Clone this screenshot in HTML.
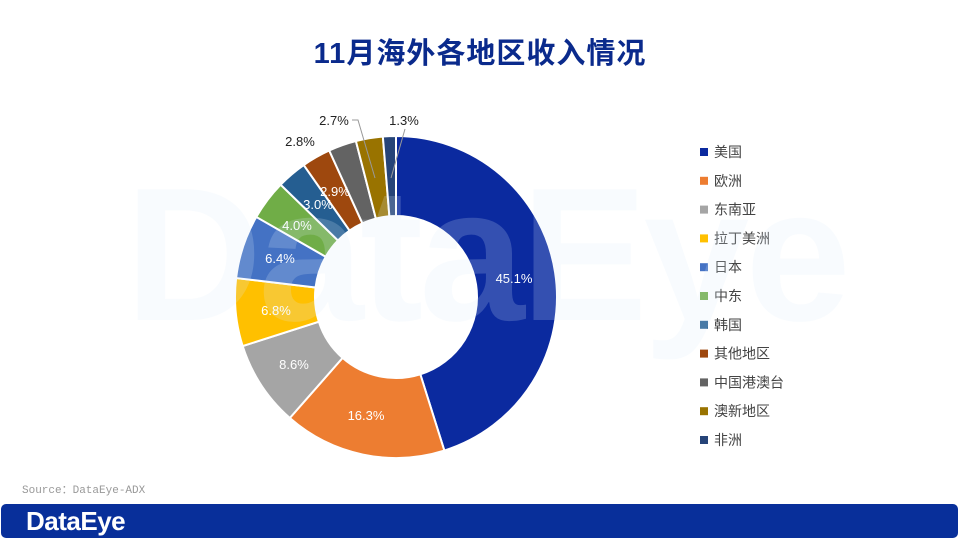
<!DOCTYPE html>
<html><head><meta charset="utf-8"><style>
body{margin:0;width:960px;height:540px;background:#fff;overflow:hidden;position:relative;font-family:"Liberation Sans","Noto Sans CJK SC",sans-serif}
.t{position:absolute;left:0;width:960px;top:30px;text-align:center;font-size:29px;font-weight:bold;color:#0a2a8c;letter-spacing:1px}
.src{position:absolute;left:22px;top:481px;font-family:"Liberation Mono","Noto Sans CJK SC",monospace;font-size:11px;color:#999}
.bar{position:absolute;left:1px;top:504px;width:957px;height:34px;background:#082f9a;border-radius:5px}
.logo{position:absolute;left:26px;top:506px;color:#fff;font-size:26px;font-weight:bold;letter-spacing:-0.5px}
.wm{position:absolute;left:125px;top:160px;font-size:190px;font-weight:bold;color:rgba(220,235,250,0.2);letter-spacing:-4px;line-height:190px}
</style></head><body>
<div class="t">11月海外各地区收入情况</div>
<svg width="960" height="540" style="position:absolute;left:0;top:0" id="s">
<g id="sl"></g>
<g font-size="13" fill="#fff" text-anchor="middle" font-family="Liberation Sans,sans-serif">
<text x="514" y="283">45.1%</text><text x="366" y="420">16.3%</text><text x="294" y="369">8.6%</text>
<text x="276" y="315">6.8%</text><text x="280" y="263">6.4%</text><text x="297" y="230">4.0%</text>
<text x="318" y="209">3.0%</text><text x="335" y="196">2.9%</text>
</g>
<g font-size="13" fill="#222" text-anchor="middle" font-family="Liberation Sans,sans-serif">
<text x="300" y="146">2.8%</text><text x="334" y="125">2.7%</text><text x="404" y="125">1.3%</text>
</g>
<polyline points="352,120 358,120 375,178" fill="none" stroke="#999" stroke-width="1"/>
<polyline points="405,129 391,178" fill="none" stroke="#999" stroke-width="1"/>
<g id="lg" font-size="14" fill="#444"></g>
</svg>
<div class="wm">DataEye</div>
<div class="src">Source：DataEye-ADX</div>
<div class="bar"></div><div class="logo">DataEye</div>
<script>
var d=[["美国",45.1,"#0b2a9f"],["欧洲",16.3,"#ed7d31"],["东南亚",8.6,"#a5a5a5"],["拉丁美洲",6.8,"#ffc000"],["日本",6.4,"#4472c4"],["中东",4.0,"#70ad47"],["韩国",3.0,"#255e91"],["其他地区",2.9,"#9e480e"],["中国港澳台",2.8,"#636363"],["澳新地区",2.7,"#997300"],["非洲",1.3,"#264478"]];
var cx=396,cy=297,R=161,r=81,tot=99.9,a=0,ns="http://www.w3.org/2000/svg",g=document.getElementById("sl"),lg=document.getElementById("lg");
function p(rad,an){return [cx+rad*Math.sin(an),cy-rad*Math.cos(an)];}
d.forEach(function(e,i){var b=a+e[1]/tot*2*Math.PI,l=(b-a)>Math.PI?1:0;
var p1=p(R,a),p2=p(R,b),p3=p(r,b),p4=p(r,a);
var el=document.createElementNS(ns,"path");
el.setAttribute("d","M"+p1+"A"+R+","+R+" 0 "+l+" 1 "+p2+"L"+p3+"A"+r+","+r+" 0 "+l+" 0 "+p4+"Z");
el.setAttribute("fill",e[2]);el.setAttribute("stroke","#fff");el.setAttribute("stroke-width","2");g.appendChild(el);a=b;
var y=152+i*28.8;var rc=document.createElementNS(ns,"rect");rc.setAttribute("x",700);rc.setAttribute("y",y-4);rc.setAttribute("width",8);rc.setAttribute("height",8);rc.setAttribute("fill",e[2]);lg.appendChild(rc);
var t=document.createElementNS(ns,"text");t.setAttribute("x",714);t.setAttribute("y",y+5);t.textContent=e[0];lg.appendChild(t);});
</script>
</body></html>
